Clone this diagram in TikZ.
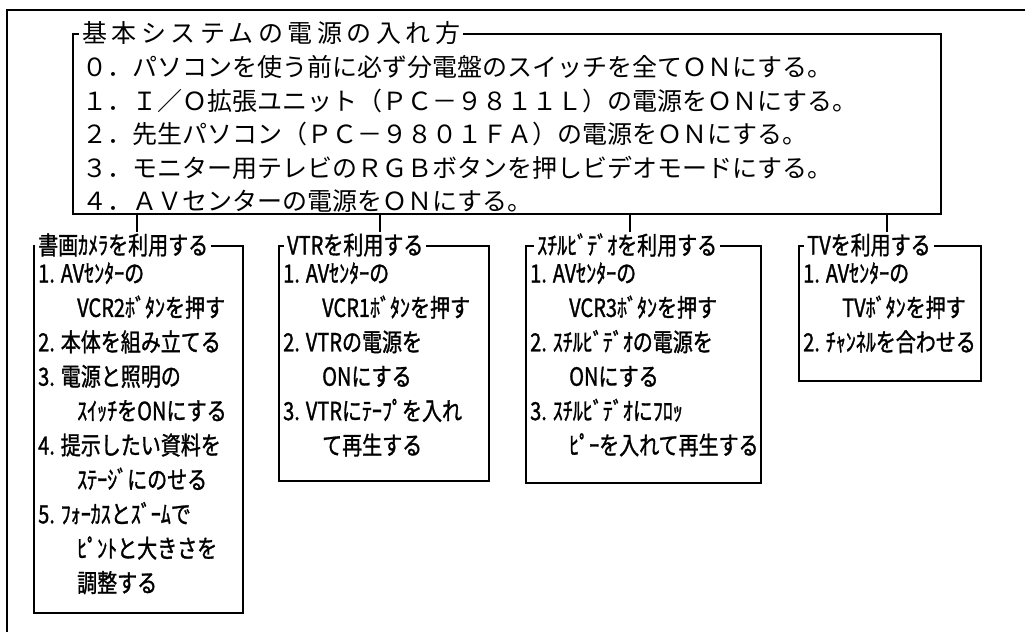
\documentclass[tikz,border=0pt]{standalone}
\usepackage{fontspec}
\newfontfamily\jpmain{Noto Sans CJK JP}
\newfontfamily\jptitle[LetterSpace=18]{Noto Sans CJK JP}
\newfontfamily\jpcond[FakeStretch=0.8,FakeBold=1.2]{Noto Sans CJK JP}
\begin{document}
\begin{tikzpicture}[x=1pt,y=-1pt,
  outerline/.style={line width=2.4pt},
  boxshape/.style={draw, line width=1.6pt, inner sep=0pt, anchor=north west},
  conn/.style={line width=1.4pt},
  mtext/.style={anchor=base west, inner sep=0pt, font=\jpmain\fontsize{25}{30}\selectfont},
  mtitle/.style={anchor=west, fill=white, inner xsep=3pt, inner ysep=1pt, font=\jptitle\fontsize{25}{30}\selectfont},
  stext/.style={anchor=base west, inner sep=0pt, font=\jpcond\fontsize{25}{30}\selectfont},
  stitle/.style={anchor=west, fill=white, inner xsep=3pt, inner ysep=1pt, font=\jpcond\fontsize{25}{30}\selectfont},
]
\useasboundingbox (0,0) rectangle (1025,632);
\fill[white] (0,0) rectangle (1025,632);
% outer frame
\draw[outerline] (7,632) -- (7,10) -- (1025,10);
% main box
\node[boxshape, minimum width=868pt, minimum height=180pt] (main) at (72,33) {};
\node[mtitle] (mt) at (79,33) {基本システムの電源の入れ方\hspace{4pt}};
\node[mtext] (m0) at (82,76.5) {０．パソコンを使う前に必ず分電盤のスイッチを全てＯＮにする。};
\node[mtext] (m1) at (82,110) {１．Ｉ／Ｏ拡張ユニット（ＰＣ－９８１１Ｌ）の電源をＯＮにする。};
\node[mtext] (m2) at (82,143.5) {２．先生パソコン（ＰＣ－９８０１ＦＡ）の電源をＯＮにする。};
\node[mtext] (m3) at (82,177) {３．モニター用テレビのＲＧＢボタンを押しビデオモードにする。};
\node[mtext] (m4) at (82,210.5) {４．ＡＶセンターの電源をＯＮにする。};
% sub boxes
\node[boxshape, minimum width=209pt, minimum height=367pt] (b1) at (33,245) {};
\node[boxshape, minimum width=210pt, minimum height=235pt] (b2) at (278,245) {};
\node[boxshape, minimum width=235pt, minimum height=237pt] (b3) at (525,245) {};
\node[boxshape, minimum width=182pt, minimum height=135pt] (b4) at (798,245) {};
\node[stitle] (t1) at (35,245) {書画ｶﾒﾗを利用する\hspace{3pt}};
\node[stitle] (t2) at (284,245) {VTRを利用する\hspace{3pt}};
\node[stitle] (t3) at (534,245) {ｽﾁﾙﾋﾞﾃﾞｵを利用する\hspace{3pt}};
\node[stitle] (t4) at (804,245) {TVを利用する\hspace{3pt}};
% box 1 text
\node[stext] (a1) at (38,282.5) {1. AVｾﾝﾀｰの};
\node[stext] (a2) at (77,316.9) {VCR2ﾎﾞﾀﾝを押す};
\node[stext] (a3) at (38,351.3) {2. 本体を組み立てる};
\node[stext] (a4) at (38,385.7) {3. 電源と照明の};
\node[stext] (a5) at (77,420.1) {ｽｲｯﾁをONにする};
\node[stext] (a6) at (38,454.5) {4. 提示したい資料を};
\node[stext] (a7) at (77,488.9) {ｽﾃｰｼﾞにのせる};
\node[stext] (a8) at (38,523.3) {5. ﾌｫｰｶｽとｽﾞｰﾑで};
\node[stext] (a9) at (77,557.7) {ﾋﾟﾝﾄと大きさを};
\node[stext] (a10) at (77,592.1) {調整する};
% box 2 text
\node[stext] (v1) at (283,282.5) {1. AVｾﾝﾀｰの};
\node[stext] (v2) at (322,316.9) {VCR1ﾎﾞﾀﾝを押す};
\node[stext] (v3) at (283,351.3) {2. VTRの電源を};
\node[stext] (v4) at (322,385.7) {ONにする};
\node[stext] (v5) at (283,420.1) {3. VTRにﾃｰﾌﾟを入れ};
\node[stext] (v6) at (322,454.5) {て再生する};
% box 3 text
\node[stext] (s1) at (530,282.5) {1. AVｾﾝﾀｰの};
\node[stext] (s2) at (569,316.9) {VCR3ﾎﾞﾀﾝを押す};
\node[stext] (s3) at (530,351.3) {2. ｽﾁﾙﾋﾞﾃﾞｵの電源を};
\node[stext] (s4) at (569,385.7) {ONにする};
\node[stext] (s5) at (530,420.1) {3. ｽﾁﾙﾋﾞﾃﾞｵにﾌﾛｯ};
\node[stext] (s6) at (569,454.5) {ﾋﾟｰを入れて再生する};
% box 4 text
\node[stext] (w1) at (803,282.5) {1. AVｾﾝﾀｰの};
\node[stext] (w2) at (842,316.9) {TVﾎﾞﾀﾝを押す};
\node[stext] (w3) at (803,351.3) {2. ﾁｬﾝﾈﾙを合わせる};
% connectors
\coordinate (k1) at (137,0);
\coordinate (k2) at (380,0);
\coordinate (k3) at (630,0);
\coordinate (k4) at (887,0);
\draw[conn] (main.south -| k1) -- (t1.north -| k1);
\draw[conn] (main.south -| k2) -- (t2.north -| k2);
\draw[conn] (main.south -| k3) -- (t3.north -| k3);
\draw[conn] (main.south -| k4) -- (t4.north -| k4);
\end{tikzpicture}
\end{document}
